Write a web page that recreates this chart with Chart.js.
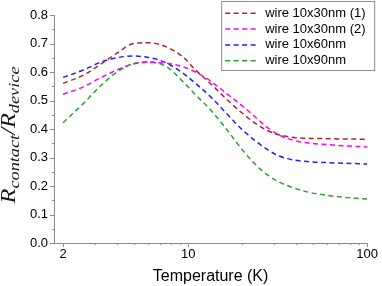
<!DOCTYPE html>
<html>
<head>
<meta charset="utf-8">
<script src="https://cdn.jsdelivr.net/npm/chart.js@4.4.0/dist/chart.umd.min.js"></script>
<style>
  html, body { margin: 0; padding: 0; background: #fff; }
  canvas { display: block; }
</style>
</head>
<body>
<canvas id="chart" width="382" height="286"></canvas>
<script>
// Temperature (K), shared by all four series
const temperatures = [2, 2.6, 3.2, 4, 4.9, 6, 7.5, 9.3, 11, 13.5, 16.8, 20, 23.6, 28, 32, 39, 48, 60, 75, 100];

// R_contact / R_device
const wire30a = [0.560, 0.589, 0.625, 0.666, 0.699, 0.703, 0.689, 0.654, 0.607, 0.556, 0.498, 0.456, 0.421, 0.393, 0.380, 0.370, 0.367, 0.366, 0.365, 0.364];
const wire30b = [0.522, 0.548, 0.578, 0.607, 0.628, 0.634, 0.631, 0.619, 0.600, 0.566, 0.519, 0.482, 0.443, 0.403, 0.380, 0.360, 0.350, 0.345, 0.341, 0.337];
const wire60  = [0.581, 0.607, 0.633, 0.650, 0.656, 0.651, 0.633, 0.597, 0.560, 0.510, 0.447, 0.398, 0.360, 0.326, 0.306, 0.291, 0.285, 0.282, 0.280, 0.277];
const wire90  = [0.422, 0.490, 0.548, 0.600, 0.629, 0.635, 0.620, 0.568, 0.520, 0.463, 0.390, 0.328, 0.277, 0.237, 0.215, 0.193, 0.177, 0.167, 0.160, 0.154];

const seriesLabels = ['wire 10x30nm (1)', 'wire 10x30nm (2)', 'wire 10x60nm', 'wire 10x90nm'];
const seriesColors = ['#a52a2a', '#ff00ff', '#1f1fff', '#2ea02e'];

const xMajorTicks = [2, 10, 100];
const xMinorTicks = [3, 4, 5, 6, 7, 8, 9, 20, 30, 40, 50, 60, 70, 80, 90];

const AXIS_GREY = '#8c8c8c';

// outward tick marks, long for major and short for minor
const tickMarks = {
    id: 'tickMarks',
    afterDraw(chart) {
        const { ctx, chartArea: a, scales: { x, y } } = chart;
        ctx.save();
        ctx.strokeStyle = AXIS_GREY;
        ctx.lineWidth = 1;
        ctx.beginPath();
        for (let i = 0; i <= 16; i++) {
            const py = Math.round(y.getPixelForValue(i * 0.05)) + 0.5;
            const len = i % 2 === 0 ? 4 : 2;
            ctx.moveTo(a.left - len, py);
            ctx.lineTo(a.left, py);
        }
        xMajorTicks.concat(xMinorTicks).forEach(v => {
            const px = Math.round(x.getPixelForValue(v)) + 0.5;
            const len = xMajorTicks.includes(v) ? 4 : 2;
            ctx.moveTo(px, a.bottom);
            ctx.lineTo(px, a.bottom + len);
        });
        ctx.stroke();
        ctx.restore();
    }
};

// rotated y title with subscripts
const yTitle = {
    id: 'yTitle',
    afterDraw(chart) {
        const { ctx } = chart;
        const parts = [
            { t: 'R', size: 20, dy: 0 },
            { t: 'contact', size: 15, dy: 4 },
            { t: '/', size: 20, dy: 0 },
            { t: 'R', size: 20, dy: 0 },
            { t: 'device', size: 15, dy: 4 }
        ];
        ctx.save();
        let total = 0;
        parts.forEach(p => {
            ctx.font = `italic ${p.size}px "Liberation Serif"`;
            p.w = ctx.measureText(p.t).width;
            total += p.w;
        });
        ctx.translate(15, 135);
        ctx.rotate(-Math.PI / 2);
        ctx.scale(137 / total, 1);
        ctx.fillStyle = '#1a1a1a';
        ctx.textBaseline = 'alphabetic';
        let pos = -total / 2;
        parts.forEach(p => {
            ctx.font = `italic ${p.size}px "Liberation Serif"`;
            ctx.fillText(p.t, pos, p.dy);
            pos += p.w;
        });
        ctx.restore();
    }
};

// legend in a framed box inside the top right of the plot
const boxLegend = {
    id: 'boxLegend',
    afterDraw(chart) {
        const { ctx, chartArea: a } = chart;
        const left = a.right - 146, top = a.top - 14, w = 153, h = 69;
        ctx.save();
        ctx.fillStyle = '#fff';
        ctx.fillRect(left, top, w, h);
        ctx.strokeStyle = AXIS_GREY;
        ctx.lineWidth = 1;
        ctx.strokeRect(left + 0.5, top + 0.5, w, h);
        ctx.font = '13px "Liberation Sans"';
        ctx.textBaseline = 'middle';
        chart.data.datasets.forEach((ds, i) => {
            const yy = top + 12.3 + i * 15.8;
            ctx.strokeStyle = ds.borderColor;
            ctx.lineWidth = 1.5;
            ctx.setLineDash([5, 3.5]);
            ctx.beginPath();
            ctx.moveTo(left + 4, yy);
            ctx.lineTo(left + 35, yy);
            ctx.stroke();
            ctx.setLineDash([]);
            ctx.fillStyle = '#000';
            ctx.fillText(ds.label, left + 44, yy);
        });
        ctx.restore();
    }
};

const seriesData = [wire30a, wire30b, wire60, wire90];

new Chart(document.getElementById('chart'), {
    type: 'line',
    data: {
        labels: temperatures,
        datasets: seriesData.map((vals, i) => ({
            label: seriesLabels[i],
            data: vals.map((v, j) => ({ x: temperatures[j], y: v })),
            borderColor: seriesColors[i],
            borderWidth: 1.5,
            borderDash: [5, 3.5],
            pointRadius: 0,
            fill: false,
            cubicInterpolationMode: 'monotone'
        }))
    },
    options: {
        responsive: false,
        animation: false,
        devicePixelRatio: 1,
        layout: { padding: { left: 0, top: 15, right: 12, bottom: 0 } },
        plugins: {
            legend: { display: false },
            tooltip: { enabled: false }
        },
        scales: {
            x: {
                type: 'logarithmic',
                min: 1.78,
                max: 100,
                afterBuildTicks: scale => {
                    scale.ticks = xMajorTicks.map(v => ({ value: v }));
                },
                afterFit: scale => { scale.height = 43; },
                ticks: {
                    color: '#000',
                    font: { family: 'Liberation Sans', size: 13 },
                    padding: 4,
                    maxRotation: 0,
                    autoSkip: false,
                    callback: v => String(v)
                },
                grid: { display: true, drawOnChartArea: false, drawTicks: false },
                border: { color: AXIS_GREY, width: 1 },
                title: {
                    display: true,
                    text: 'Temperature (K)',
                    color: '#000',
                    font: { family: 'Liberation Sans', size: 16 },
                    padding: { top: 0, bottom: 0 }
                }
            },
            y: {
                min: 0,
                max: 0.8,
                afterFit: scale => { scale.width = 54; },
                ticks: {
                    stepSize: 0.1,
                    color: '#000',
                    font: { family: 'Liberation Sans', size: 13 },
                    padding: 6,
                    callback: v => v.toFixed(1)
                },
                grid: { display: true, drawOnChartArea: false, drawTicks: false },
                border: { color: AXIS_GREY, width: 1 }
            }
        }
    },
    plugins: [tickMarks, yTitle, boxLegend]
});
</script>
</body>
</html>
